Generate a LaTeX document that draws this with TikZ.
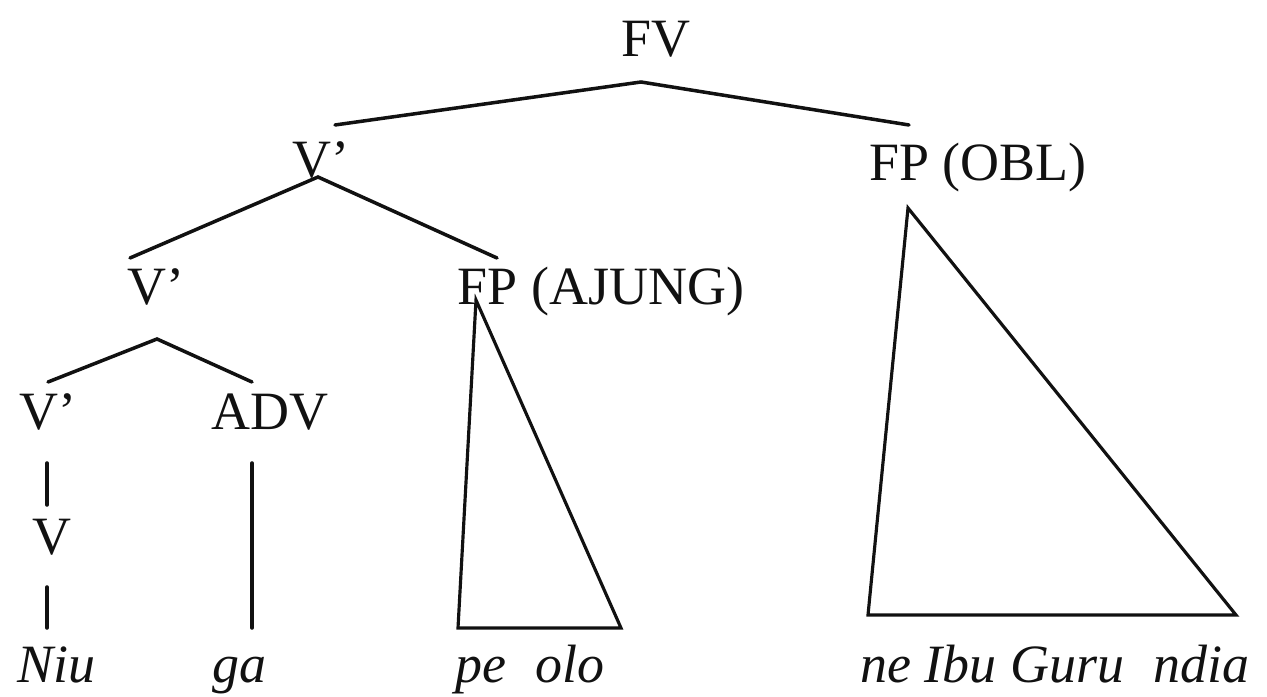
\documentclass[tikz,border=0pt]{standalone}
\usepackage{fontspec}
\setmainfont{Liberation Serif}
\usetikzlibrary{positioning}
\definecolor{trInk}{HTML}{111111}
\tikzset{
  catlbl/.style  ={anchor=base,inner sep=0pt,text=trInk,
                   font=\fontsize{30.7}{36}\selectfont},
  wordlbl/.style ={catlbl,font=\fontsize{30.7}{36}\selectfont\itshape},
  branch/.style  ={draw=trInk,line width=2pt,line cap=round},
  roof/.style    ={draw=trInk,line width=1.8pt,line join=miter},
}
\begin{document}
\begin{tikzpicture}
\useasboundingbox (0,0) rectangle (25.34,13.94);

%% category labels
\node[catlbl] (fv)    at (13.12,12.80) {FV};
\node[catlbl] (vbarA) at (6.42,10.38)  {V’};
\node[catlbl] (fpobl) at (19.56,10.32) {FP (OBL)};
\node[catlbl] (vbarB) at (3.12,7.84)   {V’};
\node[catlbl] (fpajg) at (12.02,7.84)  {FP (AJUNG)};
\node[catlbl] (vbarC) at (0.96,5.34)   {V’};
\node[catlbl] (adv)   at (5.40,5.34)   {ADV};
\node[catlbl] (verb)  at (1.04,2.84)   {V};

%% words
\node[wordlbl] (niu)   at (1.12,0.28)  {Niu};
\node[wordlbl] (ga)    at (4.78,0.28)  {ga};
\node[wordlbl] (peolo) at (10.60,0.28) {pe\hspace{.3em} olo};
\node[wordlbl] (ibu)   at (21.10,0.28) {ne Ibu Guru\hspace{.3em} ndia};

%% branch points
\coordinate (fvTop)  at (12.82,12.30);
\coordinate (fvL)    at (6.70,11.44);
\coordinate (fvR)    at (18.18,11.44);
\coordinate (vaTop)  at (6.36,10.40);
\coordinate (vaL)    at (2.60,8.78);
\coordinate (vaR)    at (9.94,8.78);
\coordinate (vbTop)  at (3.14,7.16);
\coordinate (vbL)    at (0.96,6.30);
\coordinate (vbR)    at (5.04,6.30);
\coordinate (vcBot)  at (0.94,4.68);
\coordinate (vTop)   at (0.94,3.84);
\coordinate (vBot)   at (0.94,2.20);
\coordinate (niuTop) at (0.94,1.38);
\coordinate (advBot) at (5.04,4.68);
\coordinate (gaTop)  at (5.04,1.38);
\coordinate (ajTop)  at (9.52,7.94);
\coordinate (ajL)    at (9.16,1.38);
\coordinate (ajR)    at (12.42,1.38);
\coordinate (obTop)  at (18.16,9.78);
\coordinate (obL)    at (17.36,1.64);
\coordinate (obR)    at (24.72,1.64);

\draw[branch] (fvL) -- (fvTop) -- (fvR);
\draw[branch] (vaL) -- (vaTop) -- (vaR);
\draw[branch] (vbL) -- (vbTop) -- (vbR);

% unary branches
\draw[branch] (vcBot) -- (vTop);
\draw[branch] (vBot) -- (niuTop);
\draw[branch] (advBot) -- (gaTop);

% roofs
\draw[roof] (ajTop) -- (ajL) -- (ajR) -- cycle;
\draw[roof] (obTop) -- (obL) -- (obR) -- cycle;
\end{tikzpicture}
\end{document}
